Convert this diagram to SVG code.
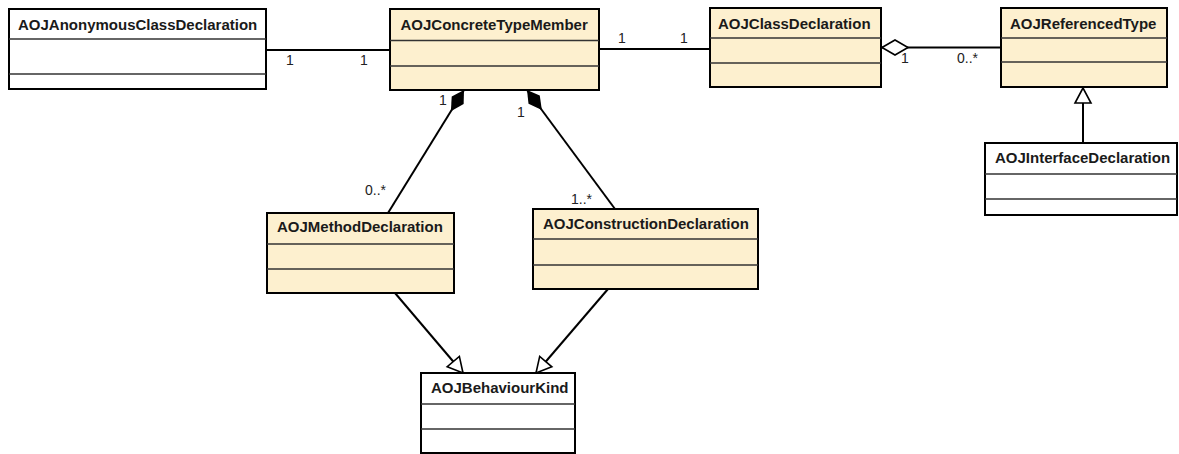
<svg xmlns="http://www.w3.org/2000/svg" width="1179" height="454" viewBox="0 0 1179 454">
<style>
.box{stroke:#000;stroke-width:2}
.w{fill:#fff}
.y{fill:#fdf0cf}
.div{stroke:#333;stroke-width:1.3}
.name{font-family:"Liberation Sans",Arial,sans-serif;font-size:15px;font-weight:bold;fill:#1a1a1a}
.lbl{font-family:"Liberation Sans",Arial,sans-serif;font-size:14px;fill:#222}
.conn{stroke:#000;stroke-width:2;fill:none}
</style>
<defs>
<marker id="tri" viewBox="-2 -10 19 20" refX="15" refY="0" markerWidth="19" markerHeight="20" orient="auto" markerUnits="userSpaceOnUse"><path d="M15,0 L0,-8 L0,8 Z" fill="#fff" stroke="#000" stroke-width="1.6"/></marker>
<marker id="dfill" viewBox="-1 -8 28 16" refX="0" refY="0" markerWidth="28" markerHeight="16" orient="auto" markerUnits="userSpaceOnUse"><path d="M0,0 L12,-7 L25,0 L12,7 Z" fill="#000"/></marker>
<marker id="dhollow" viewBox="-2 -9 30 18" refX="0" refY="0" markerWidth="30" markerHeight="18" orient="auto" markerUnits="userSpaceOnUse"><path d="M0,0 L13,-7.5 L26,0 L13,7.5 Z" fill="#fff" stroke="#000" stroke-width="1.6"/></marker>
</defs>

<g id="connectors">
<path class="conn" d="M266,50 L390,50"/>
<path class="conn" d="M599,49 L710,49"/>
<path class="conn" d="M882,47.5 L1001,47.5" marker-start="url(#dhollow)"/>
<path class="conn" d="M1083,143 L1083,88" marker-end="url(#tri)"/>
<path class="conn" d="M464,90 L388,213" marker-start="url(#dfill)"/>
<path class="conn" d="M527,90 L615,209" marker-start="url(#dfill)"/>
<path class="conn" d="M395,293 L463,373" marker-end="url(#tri)"/>
<path class="conn" d="M608,289 L536,373" marker-end="url(#tri)"/>
<text class="lbl" x="286" y="65">1</text>
<text class="lbl" x="360" y="65">1</text>
<text class="lbl" x="618" y="43">1</text>
<text class="lbl" x="680" y="43">1</text>
<text class="lbl" x="901" y="63">1</text>
<text class="lbl" x="957" y="63">0..*</text>
<text class="lbl" x="439" y="105">1</text>
<text class="lbl" x="517" y="117">1</text>
<text class="lbl" x="365" y="195">0..*</text>
<text class="lbl" x="571" y="204">1..*</text>
</g>

<g id="AOJAnonymousClassDeclaration">
<rect class="box w" x="9" y="9" width="257" height="80"/>
<line class="div" x1="9" y1="39" x2="266" y2="39"/>
<line class="div" x1="9" y1="74" x2="266" y2="74"/>
<text class="name" x="18" y="29.5">AOJAnonymousClassDeclaration</text>
</g>

<g id="AOJConcreteTypeMember">
<rect class="box y" x="390" y="9" width="209" height="81"/>
<line class="div" x1="390" y1="40.5" x2="599" y2="40.5"/>
<line class="div" x1="390" y1="66" x2="599" y2="66"/>
<text class="name" x="400.5" y="30">AOJConcreteTypeMember</text>
</g>

<g id="AOJClassDeclaration">
<rect class="box y" x="710" y="8" width="171" height="79"/>
<line class="div" x1="710" y1="38" x2="881" y2="38"/>
<line class="div" x1="710" y1="63" x2="881" y2="63"/>
<text class="name" x="718" y="29">AOJClassDeclaration</text>
</g>

<g id="AOJReferencedType">
<rect class="box y" x="1001" y="8" width="166" height="79"/>
<line class="div" x1="1001" y1="38" x2="1167" y2="38"/>
<line class="div" x1="1001" y1="62" x2="1167" y2="62"/>
<text class="name" x="1010" y="29">AOJReferencedType</text>
</g>

<g id="AOJInterfaceDeclaration">
<rect class="box w" x="985" y="143" width="192" height="72"/>
<line class="div" x1="985" y1="174" x2="1177" y2="174"/>
<line class="div" x1="985" y1="199" x2="1177" y2="199"/>
<text class="name" x="995" y="163">AOJInterfaceDeclaration</text>
</g>

<g id="AOJMethodDeclaration">
<rect class="box y" x="267" y="213" width="187" height="80"/>
<line class="div" x1="267" y1="244" x2="454" y2="244"/>
<line class="div" x1="267" y1="269" x2="454" y2="269"/>
<text class="name" x="277" y="232">AOJMethodDeclaration</text>
</g>

<g id="AOJConstructionDeclaration">
<rect class="box y" x="533" y="209" width="225" height="80"/>
<line class="div" x1="533" y1="239" x2="758" y2="239"/>
<line class="div" x1="533" y1="265" x2="758" y2="265"/>
<text class="name" x="543" y="229">AOJConstructionDeclaration</text>
</g>

<g id="AOJBehaviourKind">
<rect class="box w" x="421" y="373" width="154" height="80"/>
<line class="div" x1="421" y1="404" x2="575" y2="404"/>
<line class="div" x1="421" y1="429" x2="575" y2="429"/>
<text class="name" x="431" y="393">AOJBehaviourKind</text>
</g>
</svg>
